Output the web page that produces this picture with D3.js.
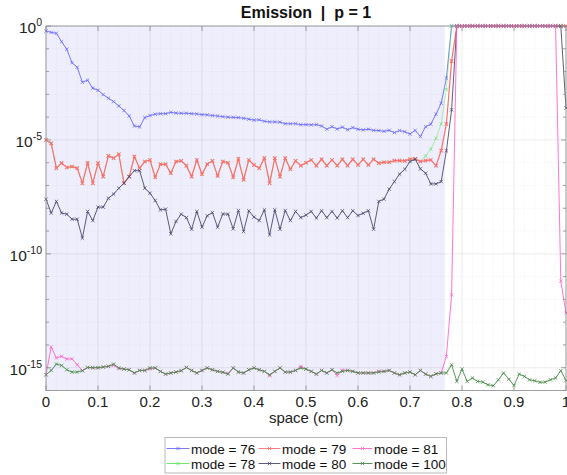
<!DOCTYPE html>
<html><head><meta charset="utf-8">
<script src="https://cdn.jsdelivr.net/npm/d3@7"></script>
<style>
body{margin:0;background:#fff}
svg{display:block;font-family:"Liberation Sans",Arial,Helvetica,sans-serif}
</style>
</head><body><svg id="c" width="567" height="475"></svg>
<script>
// ---------------- DATA ----------------
const xValues = [0,0.01,0.02,0.03,0.04,0.05,0.06,0.07,0.08,0.09,
0.1,0.11,0.12,0.13,0.14,0.15,0.16,0.17,0.18,0.19,
0.2,0.21,0.22,0.23,0.24,0.25,0.26,0.27,0.28,0.29,
0.3,0.31,0.32,0.33,0.34,0.35,0.36,0.37,0.38,0.39,
0.4,0.41,0.42,0.43,0.44,0.45,0.46,0.47,0.48,0.49,
0.5,0.51,0.52,0.53,0.54,0.55,0.56,0.57,0.58,0.59,
0.6,0.61,0.62,0.63,0.64,0.65,0.66,0.67,0.68,0.69,
0.7,0.71,0.72,0.73,0.74,0.75,0.76,0.77,0.78,0.79,
0.8,0.81,0.82,0.83,0.84,0.85,0.86,0.87,0.88,0.89,
0.9,0.91,0.92,0.93,0.94,0.95,0.96,0.97,0.98,0.99,1];

// values given as log10 exponents (value = 10^e)
const mode76Exp = [-0.22,-0.28,-0.32,-0.69,-1.02,-1.61,-1.81,-2.47,-2.38,-2.73,
-2.82,-3.01,-3.17,-3.32,-3.51,-3.71,-3.95,-4.39,-4.43,-4.02,
-3.93,-3.87,-3.85,-3.85,-3.79,-3.82,-3.83,-3.83,-3.85,-3.86,
-3.89,-3.90,-3.93,-3.95,-3.98,-4.00,-4.01,-4.02,-4.05,-4.09,
-4.13,-4.12,-4.18,-4.21,-4.21,-4.22,-4.29,-4.29,-4.29,-4.33,
-4.33,-4.34,-4.33,-4.39,-4.53,-4.42,-4.52,-4.44,-4.55,-4.46,
-4.53,-4.56,-4.53,-4.58,-4.59,-4.62,-4.58,-4.68,-4.59,-4.64,
-4.74,-4.58,-4.85,-4.42,-4.31,-3.87,-3.39,-2.29,0,0,
0,0,0,0,0,0,0,0,0,0,
0,0,0,0,0,0,0,0,0,0,0];

const mode78Exp = [-5.00,-5.15,-6.24,-6.02,-6.21,-6.17,-6.24,-6.90,-6.02,-6.90,
-6.02,-6.61,-5.70,-5.80,-5.63,-6.90,-6.61,-5.73,-6.24,-5.95,
-5.88,-6.64,-6.07,-6.07,-6.46,-5.95,-5.92,-6.13,-6.61,-5.88,
-6.51,-6.07,-5.92,-6.58,-5.95,-6.00,-6.64,-5.83,-6.75,-5.88,
-6.10,-6.24,-5.80,-6.90,-5.80,-6.61,-5.80,-6.29,-5.92,-6.13,
-6.00,-5.88,-6.13,-5.85,-6.13,-5.88,-6.13,-5.85,-6.13,-5.85,
-6.10,-5.85,-6.10,-5.85,-6.02,-5.98,-5.98,-5.91,-5.91,-5.92,
-5.85,-5.83,-5.95,-5.70,-5.41,-4.93,-4.30,-2.78,0,0,
0,0,0,0,0,0,0,0,0,0,
0,0,0,0,0,0,0,0,0,0,0];

const mode79Exp = [-5.00,-5.15,-6.24,-6.02,-6.21,-6.17,-6.24,-6.90,-6.02,-6.90,
-6.02,-6.61,-5.70,-5.80,-5.63,-6.90,-6.61,-5.73,-6.24,-5.95,
-5.88,-6.64,-6.07,-6.07,-6.46,-5.95,-5.92,-6.13,-6.61,-5.88,
-6.51,-6.07,-5.92,-6.58,-5.95,-6.00,-6.64,-5.83,-6.75,-5.88,
-6.10,-6.24,-5.80,-6.90,-5.80,-6.61,-5.80,-6.29,-5.92,-6.13,
-6.00,-5.88,-6.13,-5.85,-6.13,-5.88,-6.13,-5.85,-6.13,-5.85,
-6.10,-5.85,-6.10,-5.85,-6.02,-5.98,-5.98,-5.91,-5.91,-5.92,
-5.85,-5.83,-5.95,-5.91,-5.88,-6.13,-5.47,-4.30,-1.54,0,
0,0,0,0,0,0,0,0,0,0,
0,0,0,0,0,0,0,0,0,0,0];

const mode80Exp = [-7.60,-8.21,-7.70,-8.21,-8.26,-8.48,-8.48,-9.31,-8.14,-8.54,
-7.95,-7.95,-7.56,-7.38,-7.12,-6.90,-6.61,-6.35,-6.35,-7.12,
-7.34,-7.66,-8.07,-8.04,-9.12,-8.58,-8.26,-8.41,-8.92,-8.14,
-8.83,-8.33,-8.19,-8.83,-8.25,-8.26,-8.90,-8.10,-9.02,-8.11,
-8.39,-8.54,-8.07,-9.17,-8.07,-8.92,-8.10,-8.54,-8.14,-8.41,
-8.30,-8.14,-8.43,-8.11,-8.41,-8.14,-8.43,-8.11,-8.41,-8.11,
-8.32,-8.22,-8.11,-8.92,-7.70,-7.60,-7.16,-6.83,-6.50,-6.29,
-5.95,-5.85,-6.27,-6.46,-6.93,-6.93,-6.83,-5.48,-3.68,0,
0,0,0,0,0,0,0,0,0,0,
0,0,0,0,0,0,0,0,0,0,-3.6];

const mode81Exp = [-15.31,-14.09,-14.57,-14.50,-14.62,-14.61,-14.87,-15.13,-14.99,-15.00,
-15.00,-14.97,-14.94,-14.90,-15.04,-15.06,-15.09,-15.23,-15.12,-15.12,
-15.05,-15.01,-15.16,-15.28,-15.23,-15.19,-15.13,-14.99,-15.12,-15.23,
-15.12,-15.01,-15.09,-15.16,-15.20,-15.25,-15.01,-15.19,-15.23,-15.09,
-15.01,-15.09,-15.16,-15.35,-15.16,-15.01,-15.19,-15.19,-15.12,-14.94,
-15.06,-15.16,-15.28,-15.12,-15.23,-15.09,-15.34,-15.10,-15.12,-15.16,
-15.23,-15.23,-15.23,-15.23,-15.15,-15.16,-15.12,-15.23,-15.31,-15.23,
-15.19,-15.31,-15.12,-15.28,-15.38,-15.27,-15.23,-14.50,-11.80,0,
0,0,0,0,0,0,0,0,0,0,
0,0,0,0,0,0,0,0,0,-11.2,-12.6];

const mode100Exp = [-15.31,-15.12,-14.84,-14.90,-15.09,-15.19,-15.19,-15.13,-14.99,-15.00,
-15.00,-14.97,-14.94,-14.84,-15.01,-15.06,-15.09,-15.23,-15.12,-15.12,
-15.01,-15.01,-15.16,-15.28,-15.23,-15.19,-15.13,-14.99,-15.12,-15.23,
-15.12,-15.01,-15.09,-15.16,-15.20,-15.28,-15.01,-15.19,-15.23,-15.09,
-15.01,-15.09,-15.16,-15.31,-15.16,-15.01,-15.19,-15.19,-15.12,-15.01,
-15.06,-15.16,-15.28,-15.12,-15.23,-15.09,-15.23,-15.16,-15.12,-15.16,
-15.23,-15.23,-15.23,-15.23,-15.19,-15.16,-15.12,-15.23,-15.31,-15.23,
-15.19,-15.31,-15.12,-15.28,-15.38,-15.27,-15.23,-15.23,-14.87,-15.60,
-15.06,-15.60,-15.45,-15.60,-15.63,-15.75,-15.79,-15.53,-15.23,-15.50,
-15.78,-15.28,-15.38,-15.53,-15.57,-15.64,-15.63,-15.53,-15.45,-15.13,-15.56];

const seriesNames = ["mode = 76","mode = 78","mode = 79","mode = 80","mode = 81","mode = 100"];
const xTicks = [0,0.1,0.2,0.3,0.4,0.5,0.6,0.7,0.8,0.9,1];
const xTickLabels = ["0","0.1","0.2","0.3","0.4","0.5","0.6","0.7","0.8","0.9","1"];
const yTickExps = [0,-5,-10,-15];
const yTickLabelExps = ["0","-5","-10","-15"];
const yDomain = [1e-16, 1];
const shadedRange = [0, 0.767];
const titleText = "Emission  |  p = 1";
const xLabelText = "space (cm)";

// ---------------- STYLE ----------------
const seriesColors = ["#6a6aff","#5fe85f","#ff6e6e","#4a4a6e","#ff66cc","#468a46"];
const lineWidths = [0.9, 0.5, 1.2, 0.9, 0.9, 0.9];
const M = {left:46, right:566, top:26, bottom:390.5};

const svg = d3.select("#c");
const x = d3.scaleLinear().domain([0,1]).range([M.left, M.right]);
const y = d3.scaleLog().domain(yDomain).range([M.bottom, M.top]);

const allExps = [mode76Exp, mode78Exp, mode79Exp, mode80Exp, mode81Exp, mode100Exp];
const series = seriesNames.map((n,i)=>({
  name:n, color:seriesColors[i], lw:lineWidths[i],
  pts: xValues.map((xv,j)=>({x:xv, v:Math.pow(10, allExps[i][j])}))
}));

// background shading
svg.append("rect").attr("x", x(shadedRange[0])).attr("y", M.top)
  .attr("width", x(shadedRange[1]) - x(shadedRange[0])).attr("height", M.bottom - M.top)
  .attr("fill", "#eeeefc");

// grid
const grid = svg.append("g");
const minorX = d3.range(0, 51).map(i=>i/50).filter(v => Math.abs(v*10 - Math.round(v*10)) > 1e-6);
grid.selectAll(".mx").data(minorX).join("line")
  .attr("x1", d=>x(d)).attr("x2", d=>x(d)).attr("y1", M.top).attr("y2", M.bottom)
  .attr("stroke", "rgba(0,0,0,0.07)").attr("stroke-width", 0.6).attr("stroke-dasharray","1.5,1.5");
const minorYExps = d3.range(-16, 1).filter(e => e % 5 !== 0);
grid.selectAll(".my").data(minorYExps).join("line")
  .attr("x1", M.left).attr("x2", M.right).attr("y1", d=>y(Math.pow(10,d))).attr("y2", d=>y(Math.pow(10,d)))
  .attr("stroke", "rgba(0,0,0,0.07)").attr("stroke-width", 0.6).attr("stroke-dasharray","1.5,1.5");
grid.selectAll(".MX").data(xTicks).join("line")
  .attr("x1", d=>x(d)).attr("x2", d=>x(d)).attr("y1", M.top).attr("y2", M.bottom)
  .attr("stroke", "rgba(0,0,0,0.10)").attr("stroke-width", 0.7);
grid.selectAll(".MY").data(yTickExps).join("line")
  .attr("x1", M.left).attr("x2", M.right).attr("y1", d=>y(Math.pow(10,d))).attr("y2", d=>y(Math.pow(10,d)))
  .attr("stroke", "rgba(0,0,0,0.10)").attr("stroke-width", 0.7);

// series
const line = d3.line().x(d=>x(d.x)).y(d=>y(d.v));
const gS = svg.append("g");
series.forEach(s=>{
  gS.append("path").attr("d", line(s.pts)).attr("fill","none")
    .attr("stroke", s.color).attr("stroke-width", s.lw);
  const ms = 1.7;
  gS.append("g").selectAll("path").data(s.pts).join("path")
    .attr("d", d=>{const cx=x(d.x), cy=y(d.v);
      return `M${cx-ms},${cy-ms}L${cx+ms},${cy+ms}M${cx-ms},${cy+ms}L${cx+ms},${cy-ms}`;})
    .attr("stroke", s.color).attr("stroke-width", Math.max(0.7, s.lw*0.85)).attr("fill","none");
});

// axes box
const axC = "#8a8a8a";
svg.append("rect").attr("x", M.left).attr("y", M.top).attr("width", M.right-M.left).attr("height", M.bottom-M.top)
  .attr("fill","none").attr("stroke", axC).attr("stroke-width", 0.8);

// ticks
const tk = svg.append("g").attr("stroke", axC).attr("stroke-width", 0.8);
xTicks.forEach(t=>{
  tk.append("line").attr("x1", x(t)).attr("x2", x(t)).attr("y1", M.bottom).attr("y2", M.bottom-5);
  tk.append("line").attr("x1", x(t)).attr("x2", x(t)).attr("y1", M.top).attr("y2", M.top+5);
});
d3.range(-16, 1).forEach(e=>{
  const len = (e % 5 === 0) ? 5 : 3;
  const yy = y(Math.pow(10,e));
  tk.append("line").attr("x1", M.left).attr("x2", M.left+len).attr("y1", yy).attr("y2", yy);
  tk.append("line").attr("x1", M.right).attr("x2", M.right-len).attr("y1", yy).attr("y2", yy);
});

// tick labels
svg.append("g").selectAll("text").data(xTicks).join("text")
  .attr("x", d=>x(d)).attr("y", 407).attr("text-anchor","middle")
  .attr("font-size", 15).attr("fill","#222").text((d,i)=>xTickLabels[i]);

const yl = svg.append("g").selectAll("text").data(yTickExps).join("text")
  .attr("x", 42).attr("y", d=>y(Math.pow(10,d)) + 7).attr("text-anchor","end")
  .attr("font-size", 15.5).attr("fill","#222");
yl.append("tspan").text("10");
yl.append("tspan").attr("dy", -7).attr("font-size", 10.5).text((d,i)=>yTickLabelExps[i]);

// title & label
svg.append("text").attr("x", (M.left+M.right)/2).attr("y", 18).attr("text-anchor","middle")
  .attr("font-size", 16).attr("font-weight","bold").attr("fill","#111").attr("xml:space","preserve")
  .style("white-space","pre").text(titleText);
svg.append("text").attr("x", (M.left+M.right)/2).attr("y", 423).attr("text-anchor","middle")
  .attr("font-size", 15).attr("fill","#222").text(xLabelText);

// legend
const lg = svg.append("g");
lg.append("rect").attr("x", 165).attr("y", 437.5).attr("width", 281.5).attr("height", 35.5)
  .attr("fill","#fff").attr("stroke","#a8a8a8").attr("stroke-width", 0.8);
const colX = [166.5, 258.5, 352.5];
const lineW = [23, 22, 20];
const rowY = [448.5, 463.5];
series.forEach((s,i)=>{
  const c = Math.floor(i/2), r = i%2;
  const x0 = colX[c], yy = rowY[r], w = lineW[c];
  lg.append("line").attr("x1", x0).attr("x2", x0+w).attr("y1", yy).attr("y2", yy)
    .attr("stroke", s.color).attr("stroke-width", 0.9);
  const cx = x0 + w/2, ms = 1.7;
  lg.append("path").attr("d", `M${cx-ms},${yy-ms}L${cx+ms},${yy+ms}M${cx-ms},${yy+ms}L${cx+ms},${yy-ms}`)
    .attr("stroke", s.color).attr("stroke-width", 0.8);
  lg.append("text").attr("x", x0+w+1.5).attr("y", yy+5).attr("font-size", 13.5).attr("fill","#111").text(s.name);
});
</script>
</body></html>
